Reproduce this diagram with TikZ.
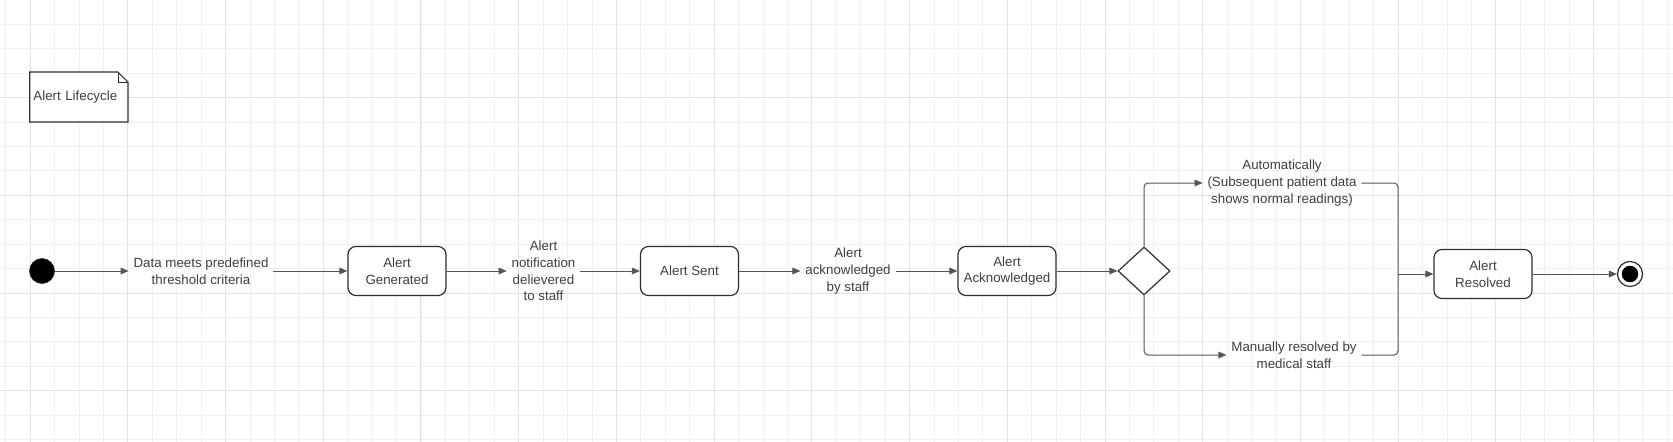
\documentclass[tikz,border=0pt]{standalone}
\usepackage{fontspec}
\setmainfont{Liberation Sans}
\usetikzlibrary{arrows.meta,shapes.geometric}
\definecolor{inkgray}{HTML}{3B4048}
\definecolor{linegray}{HTML}{51565E}
\definecolor{edgeblack}{HTML}{2B2F36}
\definecolor{gridminor}{HTML}{F0F0F0}
\definecolor{gridmajor}{HTML}{E3E3E3}
\tikzset{
  every node/.style={font=\fontsize{10}{12.5}\selectfont, text=inkgray},
  state/.style={draw=edgeblack, line width=0.9pt, rounded corners=6pt, fill=white,
    minimum width=73.5pt, minimum height=36.8pt, align=center, inner sep=2pt},
  lbl/.style={align=center, inner sep=3.5pt},
  choice/.style={diamond, draw=edgeblack, line width=0.9pt, fill=white,
    minimum width=39pt, minimum height=36pt, inner sep=0pt},
  startdot/.style={circle, draw=edgeblack, fill=black, minimum size=18.8pt, inner sep=0pt},
  endstate/.style={circle, draw=edgeblack, line width=0.9pt, fill=white, minimum size=18.8pt,
    inner sep=0pt, path picture={\fill[black] (path picture bounding box.center) circle (6.2pt);}},
  notebox/.style={fill=white, inner sep=0pt, minimum width=73.3pt, minimum height=37pt,
    text width=68pt, align=left},
  link/.style={draw=linegray, line width=0.75pt, rounded corners=3pt},
  arr/.style={link, -{Triangle[length=6pt,width=5pt]}},
}
\begin{document}
\begin{tikzpicture}[x=0.75pt, y=-0.75pt]
  % background grid
  \fill[white] (0,0) rectangle (1673,442);
  \useasboundingbox (0,0) rectangle (1673,442);
  \foreach \i in {0,...,68}
    \draw[gridminor, line width=0.5pt] ({5.57+\i*24.43},0) -- ++(0,442);
  \foreach \i in {1,...,18}
    \draw[gridminor, line width=0.5pt] (0,{-0.2+\i*24.43}) -- ++(1673,0);
  \foreach \i in {0,...,16}
    \draw[gridmajor, line width=0.6pt] ({30+\i*97.72},0) -- ++(0,442);
  \foreach \i in {0,...,3}
    \draw[gridmajor, line width=0.6pt] (0,{97.5+\i*97.72}) -- ++(1673,0);

  % note
  \node[notebox] (note) at (78.8,97) {Alert Lifecycle};
  \draw[draw=edgeblack, line width=0.9pt] (note.north west) -- ([xshift=-7.5pt]note.north east)
    -- ([yshift=-7.5pt]note.north east) -- (note.south east) -- (note.south west) -- cycle;
  \draw[draw=edgeblack, line width=0.6pt] ([xshift=-7.5pt]note.north east) -- ([xshift=-7.5pt,yshift=-7.5pt]note.north east)
    -- ([yshift=-7.5pt]note.north east);

  % states
  \node[startdot] (init) at (42,271) {};
  \node[lbl] (tr1) at (201,271) {Data meets predefined\\threshold criteria};
  \node[state] (gen) at (397,271) {Alert\\Generated};
  \node[lbl] (tr2) at (543.5,271) {Alert\\notification\\delievered\\to staff};
  \node[state] (sent) at (689.5,271) {Alert Sent};
  \node[lbl] (tr3) at (848,271) {Alert\\acknowledged\\by staff};
  \node[state] (ack) at (1007,271) {Alert\\Acknowledged};
  \node[choice] (dec) at (1144,271) {};
  \node[lbl] (auto) at (1282,183) {Automatically\\(Subsequent patient data\\shows normal readings)};
  \node[lbl] (manual) at (1294,355) {Manually resolved by\\medical staff};
  % join point of both branches
  \coordinate (merge) at (1398,274);
  \node[state] (res) at (1483,274) {Alert\\Resolved};
  \node[endstate] (fin) at (1630,274) {};

  % transitions
  \draw[arr] (init) -- (tr1);
  \draw[arr] (tr1) -- (gen);
  \draw[arr] (gen) -- (tr2);
  \draw[arr] (tr2) -- (sent);
  \draw[arr] (sent) -- (tr3);
  \draw[arr] (tr3) -- (ack);
  \draw[arr] (ack) -- (dec);
  \draw[arr] (dec.north) |- (auto.west);
  \draw[arr] (dec.south) |- (manual.west);
  \draw[link] (auto.east) -| (merge);
  \draw[link] (manual.east) -| (merge);
  \draw[arr] (merge) -- (res);
  \draw[arr] (res) -- (fin);
\end{tikzpicture}
\end{document}
